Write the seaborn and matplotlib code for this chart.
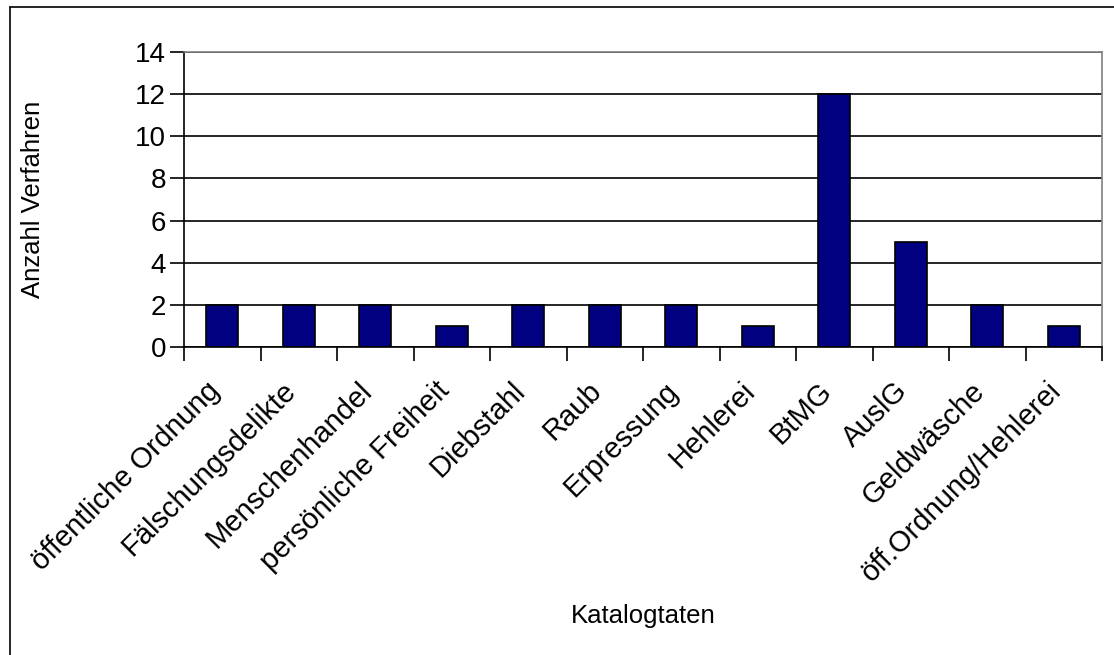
import pandas as pd
import seaborn as sns
import matplotlib.pyplot as plt
import matplotlib.transforms as mtransforms
from matplotlib.lines import Line2D

categories = ["öffentliche Ordnung", "Fälschungsdelikte", "Menschenhandel",
              "persönliche Freiheit", "Diebstahl", "Raub", "Erpressung",
              "Hehlerei", "BtMG", "AuslG", "Geldwäsche", "öff.Ordnung/Hehlerei"]
counts = [2, 2, 2, 1, 2, 2, 2, 1, 12, 5, 2, 1]
yticks = [0, 2, 4, 6, 8, 10, 12, 14]

df = pd.DataFrame({"Katalogtaten": categories, "Anzahl": counts})

sns.set_style("white")
plt.rcParams['font.family'] = ['Liberation Sans', 'DejaVu Sans']
plt.rcParams.update({"text.color": "black", "axes.labelcolor": "black",
                     "xtick.color": "black", "ytick.color": "black"})

W, H = 1114, 655
fig = plt.figure(figsize=(W / 100, H / 100), dpi=100)
ax = fig.add_axes([184 / W, 1 - 347 / H, (1102 - 184) / W, (347 - 52) / H])

sns.barplot(data=df, x="Katalogtaten", y="Anzahl", color="#000080",
            edgecolor="black", linewidth=1.2, width=0.42, saturation=1, ax=ax)

ax.set_ylim(0, 14)
ax.set_xlim(-0.5, len(categories) - 0.5)
ax.set_yticks(yticks)
ax.yaxis.grid(True, color="black", linewidth=1.2)
ax.set_axisbelow(True)

for side in ["top", "right"]:
    ax.spines[side].set_color("#808080")
    ax.spines[side].set_linewidth(1.2)
for side in ["left", "bottom"]:
    ax.spines[side].set_color("black")
    ax.spines[side].set_linewidth(1.2)

ax.tick_params(axis="y", labelsize=20, length=10, width=1.2, direction="out",
               left=True, pad=3)
ax.set_xticks(range(len(categories)))
ax.set_xticklabels(categories, rotation=45, ha="right", va="top",
                   rotation_mode="anchor", fontsize=21)
ax.tick_params(axis="x", length=0, pad=12)
# shift rotated labels a bit left/down like the original
offset = mtransforms.ScaledTranslation(-17 / 100, -13 / 100, fig.dpi_scale_trans)
for lbl in ax.get_xticklabels():
    lbl.set_transform(lbl.get_transform() + offset)

# tick marks between categories
ax.set_xticks([i - 0.5 for i in range(len(categories) + 1)], minor=True)
ax.tick_params(axis="x", which="minor", length=10, width=1.2, direction="out",
               bottom=True)

ax.set_ylabel("Anzahl Verfahren", fontsize=18.5)
ax.set_xlabel("Katalogtaten", fontsize=18.5)
ax.xaxis.set_label_coords(0.5, -0.87)
ax.yaxis.set_label_coords(-0.151, 0.5)

# chart area border (left and top edges visible)
fig.add_artist(Line2D([10 / W, 10 / W], [0, 1 - 7 / H], color="black", linewidth=1.2))
fig.add_artist(Line2D([10 / W, 1], [1 - 7 / H, 1 - 7 / H], color="black", linewidth=1.2))

fig.savefig("out.png", dpi=100, facecolor="white")
